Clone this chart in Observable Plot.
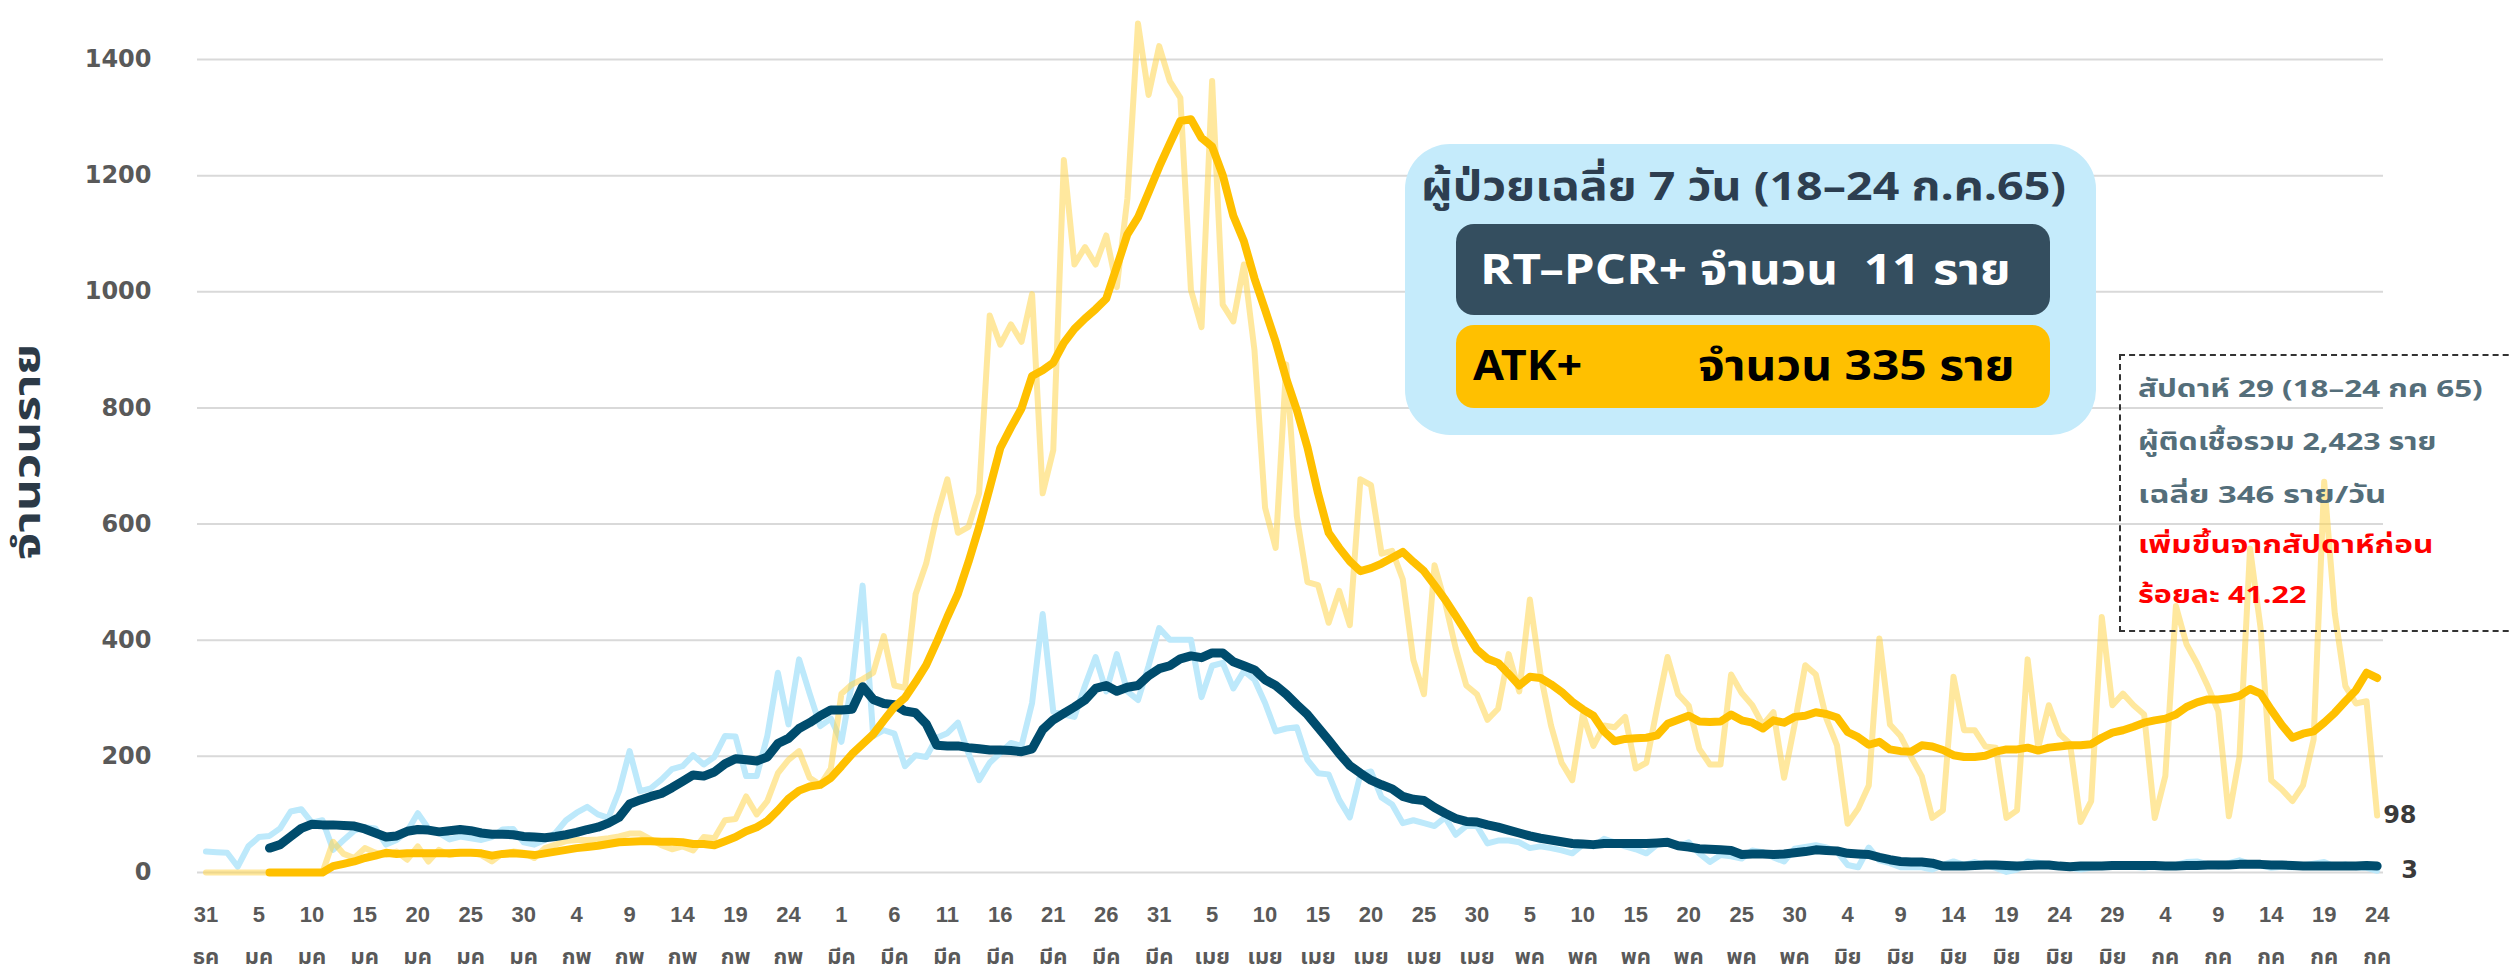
<!DOCTYPE html>
<html><head><meta charset="utf-8">
<script src="https://cdn.jsdelivr.net/npm/d3@7"></script>
<script src="https://cdn.jsdelivr.net/npm/@observablehq/plot@0.6"></script>
<style>
body{margin:0;background:#fff;}
#wrap{position:relative;width:2509px;height:980px;overflow:hidden;font-family:"Noto Sans Thai","Noto Sans Thai UI","Noto Sans","Liberation Sans",sans-serif;}
#wrap svg{position:absolute;left:0;top:0;}
.abs{position:absolute;white-space:nowrap;}
.fit{transform-origin:0 50%;}
#ytitle{left:29px;top:452px;transform-origin:50% 50%;font-size:38px;font-weight:bold;color:#2c3a47;line-height:1;}
#legend{left:1405px;top:144px;width:691px;height:291px;background:#c5ebfb;border-radius:45px;}
#ltitle{left:1421px;top:188px;font-size:40px;font-weight:bold;color:#2d3e50;line-height:1.2;}
#pcrbox{left:1456px;top:224px;width:594px;height:91px;background:#344e5f;border-radius:18px;}
#pcrtxt{left:1480px;top:271px;font-size:42px;font-weight:bold;color:#fff;line-height:1.2;}
#atkbox{left:1456px;top:325px;width:594px;height:83px;background:#ffc000;border-radius:18px;}
#atktxt1{left:1473px;top:367px;font-size:42px;font-weight:bold;color:#000;line-height:1.2;}
#atktxt2{left:1698px;top:367px;font-size:42px;font-weight:bold;color:#000;line-height:1.2;}
#note{left:2119px;top:354px;width:420px;height:278px;border:2px dashed #333;box-sizing:border-box;}
.nl{left:2138px;font-size:24px;font-weight:bold;color:#546e7a;line-height:1.2;}
.red{color:#ff0000;}
</style></head><body><div id="wrap"></div>
<script>
const tickDays = ["31","5","10","15","20","25","30","4","9","14","19","24","1","6","11","16","21","26","31","5","10","15","20","25","30","5","10","15","20","25","30","4","9","14","19","24","29","4","9","14","19","24"];
const tickMonths = ["ธค","มค","มค","มค","มค","มค","มค","กพ","กพ","กพ","กพ","กพ","มีค","มีค","มีค","มีค","มีค","มีค","มีค","เมย","เมย","เมย","เมย","เมย","เมย","พค","พค","พค","พค","พค","พค","มิย","มิย","มิย","มิย","มิย","มิย","กค","กค","กค","กค","กค"];
const yTicks = [0,200,400,600,800,1000,1200,1400];

const pcrDaily = [36,35,34,10,45,61,63,76,105,109,
 86,90,39,56,72,78,76,48,56,71,
 102,76,68,57,62,59,56,61,74,75,
 52,48,56,68,90,103,113,100,94,140,
 209,140,145,160,178,183,202,186,199,235,
 234,166,166,235,344,255,367,308,252,265,
 225,327,494,235,245,239,183,202,199,232,
 240,258,205,159,189,206,223,218,292,445,
 277,272,268,322,371,312,376,312,297,356,
 421,401,401,401,302,356,361,317,347,332,
 292,243,248,250,194,171,169,125,95,169,
 174,129,117,85,90,85,80,95,65,80,
 80,50,55,55,52,42,45,42,38,33,
 48,45,58,52,45,40,33,48,50,45,
 52,33,18,30,28,24,38,35,26,19,
 41,44,47,43,36,13,9,43,21,16,
 9,9,9,5,13,19,13,18,13,8,
 1,5,19,17,14,13,8,5,8,10,
 12,14,10,8,12,10,13,18,19,14,
 10,16,21,15,12,8,10,9,12,15,
 18,10,14,9,8,3];

const pcrAvg = [null,null,null,null,null,null,42,48,62,76,
 83,82,82,81,80,75,68,61,63,71,
 74,73,70,72,74,72,68,66,66,65,
 62,61,60,62,65,69,74,78,85,95,
 118,125,131,136,146,157,168,166,173,187,
 196,194,192,199,222,231,248,258,270,280,
 280,281,320,298,291,289,278,275,256,219,
 218,218,215,213,211,211,210,208,213,246,
 263,274,285,297,317,322,312,319,322,339,
 351,356,368,373,370,378,378,363,356,349,
 332,322,307,289,272,250,228,205,184,171,
 159,151,144,131,126,124,112,102,93,88,
 87,82,78,73,68,63,59,56,53,50,
 49,48,50,50,50,50,50,51,52,46,
 44,41,40,39,38,31,32,32,31,32,
 34,36,39,38,37,33,32,31,26,22,
 19,18,18,16,11,11,11,12,13,13,
 12,11,12,13,13,11,10,11,11,11,
 12,12,12,12,12,11,11,12,12,13,
 13,13,14,14,14,13,13,12,11,11,
 11,11,11,11,12,11];

const atkDaily = [0,0,0,0,0,0,0,0,0,0,
 0,0,53,32,25,42,34,30,36,22,
 45,19,39,30,33,35,30,19,33,36,
 34,25,42,48,54,56,56,57,59,62,
 67,67,57,47,40,45,38,61,59,90,
 92,131,100,123,171,194,209,163,151,179,
 308,324,333,344,407,322,318,479,532,614,
 677,585,595,653,959,909,944,914,996,653,
 727,1227,1047,1077,1047,1097,1008,1161,1462,1339,
 1423,1363,1334,1003,939,1363,978,949,1047,899,
 628,559,875,613,500,495,430,485,426,677,
 667,549,554,505,366,307,529,465,386,322,
 307,263,282,376,312,470,342,253,189,159,
 272,218,253,250,268,179,189,282,371,307,
 287,213,186,186,341,309,288,254,276,163,
 255,357,341,265,219,84,110,150,403,255,
 235,199,166,94,107,337,245,245,217,215,
 94,107,367,215,288,239,222,87,123,440,
 288,308,288,272,94,166,459,393,360,321,
 278,97,199,558,420,159,143,123,150,229,
 673,446,321,291,295,98];

const atkAvg = [null,null,null,null,null,null,0,0,0,0,
 0,0,11,15,19,25,29,34,32,33,
 33,33,33,33,34,34,33,29,32,33,
 32,30,33,36,39,42,44,46,49,52,
 53,54,54,53,53,52,49,49,47,54,
 61,71,78,89,107,127,141,148,151,163,
 183,204,221,238,262,285,301,328,357,397,
 440,480,535,595,662,731,766,799,855,865,
 878,912,936,954,970,988,1043,1099,1128,1171,
 1215,1255,1294,1297,1265,1250,1201,1131,1087,1023,
 969,914,850,796,732,653,585,559,536,519,
 524,532,542,552,535,519,495,470,442,413,
 384,368,361,342,322,337,335,324,311,294,
 281,270,243,226,230,231,232,236,256,263,
 270,260,259,260,272,262,258,248,262,258,
 268,270,276,273,267,242,233,220,225,212,
 209,208,219,217,211,202,199,199,201,208,
 212,212,215,210,215,217,219,219,221,232,
 241,245,251,258,262,265,272,285,293,298,
 298,300,304,316,308,280,254,232,239,243,
 258,275,295,314,344,335];

const N = pcrDaily.length;
const idx = d3.range(N);
const tickIdx = tickDays.map((_, k) => k * 5);
const last = [N - 1];
const tickFont = "'Liberation Sans Narrow','Liberation Sans','Noto Sans Thai','Noto Sans',sans-serif";
const lblFont = "'DejaVu Sans',sans-serif";

const chart = Plot.plot({
  width: 2509, height: 980,
  marginLeft: 197, marginRight: 126, marginTop: 59, marginBottom: 108,
  x: {domain: [-0.8, 205.6], axis: null},
  y: {domain: [0, 1400], axis: null},
  style: {background: "transparent", overflow: "visible"},
  marks: [
    Plot.gridY(yTicks, {stroke: "#d9d9d9", strokeOpacity: 1, strokeWidth: 2}),
    Plot.axisY(yTicks, {tickSize: 0, tickPadding: 46, fontSize: 24, fontWeight: "bold", fill: "#595959", fontFamily: lblFont, tickFormat: d => String(d)}),
    Plot.axisX(tickIdx, {tickSize: 0, tickPadding: 34, fontSize: 22, fontWeight: "bold", fill: "#595959", fontFamily: tickFont, tickFormat: d => tickDays[d / 5]}),
    Plot.axisX(tickIdx, {tickSize: 0, tickPadding: 76, fontSize: 22, fontWeight: "bold", fill: "#595959", fontFamily: tickFont, tickFormat: d => tickMonths[d / 5]}),
    Plot.line(idx, {x: i => i, y: i => pcrDaily[i], stroke: "#bde9fb", strokeWidth: 6, strokeLinejoin: "round", strokeLinecap: "round"}),
    Plot.line(idx, {x: i => i, y: i => atkDaily[i], stroke: "#ffd54f", strokeOpacity: 0.55, strokeWidth: 6, strokeLinejoin: "round", strokeLinecap: "round"}),
    Plot.line(idx, {x: i => i, y: i => pcrAvg[i], stroke: "#004c6d", strokeWidth: 9, strokeLinejoin: "round", strokeLinecap: "round"}),
    Plot.line(idx, {x: i => i, y: i => atkAvg[i], stroke: "#ffc000", strokeWidth: 8, strokeLinejoin: "round", strokeLinecap: "round"}),
    Plot.text(last, {x: i => i, y: i => atkDaily[i], text: i => String(atkDaily[i]), dx: 6, textAnchor: "start", fontSize: 24, fontWeight: "bold", fill: "#3a3a3a", fontFamily: lblFont}),
    Plot.text(last, {x: i => i, y: i => pcrDaily[i], text: i => String(pcrDaily[i]), dx: 24, textAnchor: "start", fontSize: 24, fontWeight: "bold", fill: "#3a3a3a", fontFamily: lblFont})
  ]
});

const wrap = document.getElementById("wrap");
wrap.appendChild(chart);
wrap.insertAdjacentHTML("beforeend", `
<div class="abs" id="ytitle" data-w="216">จำนวนราย</div>
<div class="abs" id="legend"></div>
<div class="abs fit" id="ltitle" data-w="645">ผู้ป่วยเฉลี่ย 7 วัน (18–24 ก.ค.65)</div>
<div class="abs" id="pcrbox"></div>
<div class="abs fit" id="pcrtxt" data-w="531">RT–PCR+ จำนวน&nbsp;&nbsp;11 ราย</div>
<div class="abs" id="atkbox"></div>
<div class="abs fit" id="atktxt1" data-w="109">ATK+</div>
<div class="abs fit" id="atktxt2" data-w="317">จำนวน 335 ราย</div>
<div class="abs" id="note"></div>
<div class="abs fit nl" style="top:390px" data-w="345">สัปดาห์ 29 (18–24 กค 65)</div>
<div class="abs fit nl" style="top:443px" data-w="299">ผู้ติดเชื้อรวม 2,423 ราย</div>
<div class="abs fit nl" style="top:496px" data-w="249">เฉลี่ย 346 ราย/วัน</div>
<div class="abs fit nl red" style="top:546px" data-w="295">เพิ่มขึ้นจากสัปดาห์ก่อน</div>
<div class="abs fit nl red" style="top:596px" data-w="169">ร้อยละ 41.22</div>
`);

function fitTexts() {
  wrap.querySelectorAll(".fit").forEach(el => {
    const s = (+el.dataset.w) / el.offsetWidth;
    el.style.transform = `translateY(-50%) scaleX(${s})`;
  });
  const yt = document.getElementById("ytitle");
  const s = (+yt.dataset.w) / yt.offsetWidth;
  yt.style.transform = `translate(-50%,-50%) rotate(-90deg) scaleX(${s})`;
}
fitTexts();
if (document.fonts && document.fonts.ready) document.fonts.ready.then(fitTexts);
</script>
</body></html>
